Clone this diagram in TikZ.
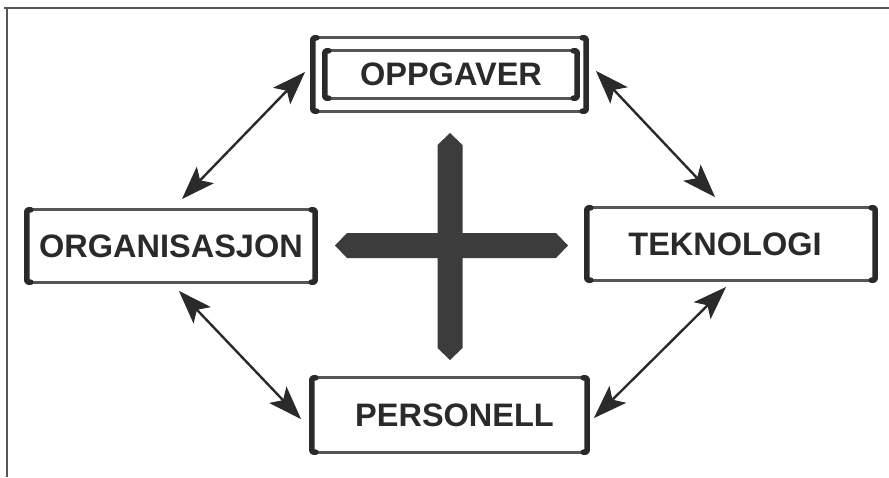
\documentclass[tikz,border=0pt]{standalone}
\usepackage{fontspec}
\setmainfont{Liberation Sans}
\usetikzlibrary{calc}
\definecolor{ink}{HTML}{2A2A2A}
\definecolor{rule}{HTML}{555555}
\definecolor{crossc}{HTML}{3C3C3C}
\tikzset{
  boxnode/.style={rectangle, draw=none, inner sep=0pt, text=ink,
    font=\fontsize{32.5}{38}\selectfont\bfseries},
  hline/.style={draw=rule, line width=3.2pt},
  vside/.style={draw=ink, line width=5.5pt, line cap=round, line join=round, rounded corners=1.5pt},
  link/.style={draw=ink, line width=2.4pt, shorten <=14pt, shorten >=14pt},
  headfill/.style={fill=ink, draw=ink, line width=1pt, line join=miter},
  framel/.style={draw=rule, line width=2pt}
}
\newcommand\myhead[2]{%
  \path[headfill] (#1) -- ($(#1)!31pt!(#2)!11pt!90:(#1)$) -- ($(#1)!24pt!(#2)$)
    -- ($(#1)!31pt!(#2)!11pt!-90:(#1)$) -- cycle;}
\newcommand\mylink[2]{%
  \draw[link] (#1) -- (#2);
  \myhead{#1}{#2}\myhead{#2}{#1}}
\begin{document}
\begin{tikzpicture}[x=1pt,y=-1pt]
\useasboundingbox (0,0) rectangle (889,477);
\fill[white] (0,0) rectangle (889,477);
% frame
\coordinate (f1) at (4,8);
\coordinate (f2) at (889,8);
\coordinate (f3) at (7,8);
\coordinate (f4) at (7,477);
\draw[framel] (f1) -- (f2);
\draw[framel] (f3) -- (f4);
% boxes
\node[boxnode, minimum width=273pt, minimum height=73pt] (oppgo) at (449.5,74.5) {};
\node[boxnode, minimum width=252pt, minimum height=47pt] (oppg) at (451,74.5) {OPPGAVER};
\node[boxnode, minimum width=288pt, minimum height=72pt] (org) at (171,246) {ORGANISASJON};
\node[boxnode, minimum width=288pt, minimum height=72pt] (tek) at (731,244) {\hspace*{-12pt}TEKNOLOGI};
\node[boxnode, minimum width=275pt, minimum height=74pt] (per) at (449.5,415) {\hspace*{10pt}PERSONELL};
\foreach \n in {oppgo,oppg,org,tek,per}{
  \draw[hline] (\n.north west) -- (\n.north east);
  \draw[hline] (\n.south west) -- (\n.south east);
  \draw[vside] ([xshift=4pt]\n.north west) -- (\n.north west) -- (\n.south west) -- ([xshift=4pt]\n.south west);
  \draw[vside] ([xshift=-4pt]\n.north east) -- (\n.north east) -- (\n.south east) -- ([xshift=-4pt]\n.south east);
}
% cross
\fill[crossc] (450,133) -- (462.5,145) -- (462.5,233) -- (556,233) -- (568,245.5)
  -- (556,258) -- (462.5,258) -- (462.5,348) -- (450,360) -- (437.5,348)
  -- (437.5,258) -- (347,258) -- (335,245.5) -- (347,233) -- (437.5,233)
  -- (437.5,145) -- cycle;
% arrows
\coordinate (a1) at (304,73);  \coordinate (a2) at (183,198);
\coordinate (b1) at (597,72);  \coordinate (b2) at (714,196);
\coordinate (c1) at (180,292); \coordinate (c2) at (300,418);
\coordinate (d1) at (725,288); \coordinate (d2) at (595,417);
\mylink{a1}{a2}
\mylink{b1}{b2}
\mylink{c1}{c2}
\mylink{d1}{d2}
\end{tikzpicture}
\end{document}
